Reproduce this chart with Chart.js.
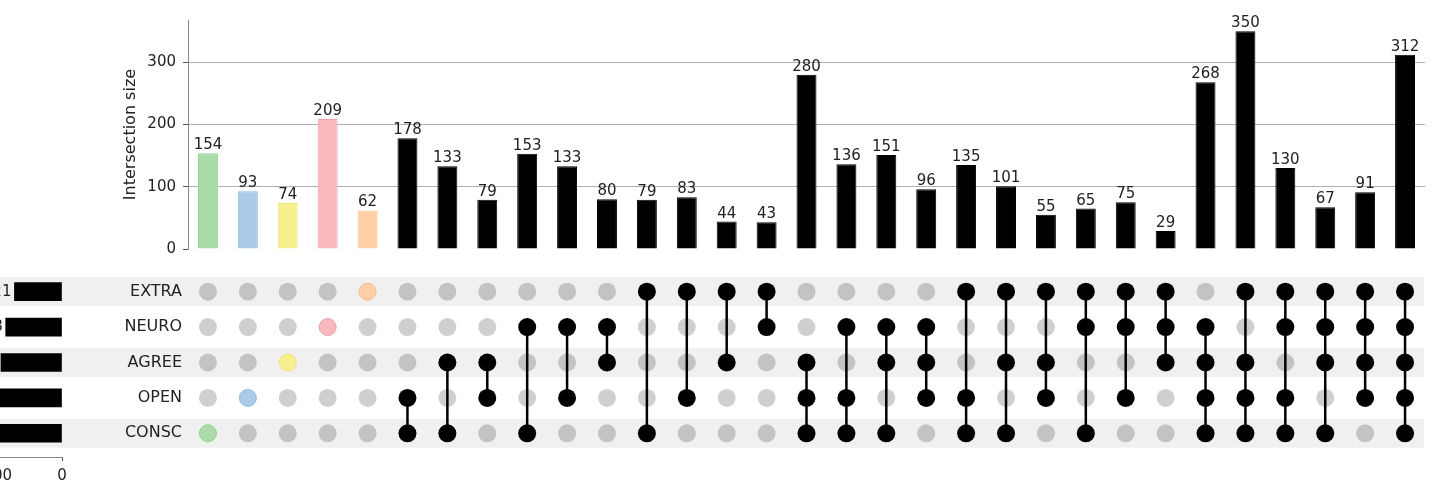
<!DOCTYPE html>
<html>
<head>
<meta charset="utf-8">
<script src="https://cdn.jsdelivr.net/npm/chart.js@4.4.1/dist/chart.umd.min.js"></script>
<style>
html, body { margin: 0; padding: 0; background: #fff; width: 1435px; height: 495px; overflow: hidden; position: relative; }
canvas { position: absolute; }
</style>
</head>
<body>
<canvas id="bars" width="1435" height="262" style="left:0;top:0"></canvas>
<canvas id="matrix" width="1435" height="233" style="left:0;top:262px"></canvas>
<canvas id="totals" width="272" height="233" style="left:-200px;top:262px"></canvas>
<script>
// sets, top to bottom in the matrix
const sets = ["EXTRA", "NEURO", "AGREE", "OPEN", "CONSC"];
const setSizes = [1721, 2038, 2210, 2494, 2692];
const setSizeTicks = [0, 2500, 5000];

const intersectionSizes = [154, 93, 74, 209, 62, 178, 133, 79, 153, 133, 80, 79, 83, 44, 43,
    280, 136, 151, 96, 135, 101, 55, 65, 75, 29, 268, 350, 130, 67, 91, 312];
const intersectionTicks = [0, 100, 200, 300];

const memberships = [
    ["CONSC"], ["OPEN"], ["AGREE"], ["NEURO"], ["EXTRA"],
    ["OPEN", "CONSC"], ["AGREE", "CONSC"], ["AGREE", "OPEN"], ["NEURO", "CONSC"],
    ["NEURO", "OPEN"], ["NEURO", "AGREE"], ["EXTRA", "CONSC"], ["EXTRA", "OPEN"],
    ["EXTRA", "AGREE"], ["EXTRA", "NEURO"],
    ["AGREE", "OPEN", "CONSC"], ["NEURO", "OPEN", "CONSC"], ["NEURO", "AGREE", "CONSC"],
    ["NEURO", "AGREE", "OPEN"], ["EXTRA", "OPEN", "CONSC"], ["EXTRA", "AGREE", "CONSC"],
    ["EXTRA", "AGREE", "OPEN"], ["EXTRA", "NEURO", "CONSC"], ["EXTRA", "NEURO", "OPEN"],
    ["EXTRA", "NEURO", "AGREE"],
    ["NEURO", "AGREE", "OPEN", "CONSC"], ["EXTRA", "AGREE", "OPEN", "CONSC"],
    ["EXTRA", "NEURO", "OPEN", "CONSC"], ["EXTRA", "NEURO", "AGREE", "CONSC"],
    ["EXTRA", "NEURO", "AGREE", "OPEN"],
    ["EXTRA", "NEURO", "AGREE", "OPEN", "CONSC"]
];

// colours for the single-set columns
const singleFill = { CONSC: "#abdbab", OPEN: "#abcbe9", AGREE: "#f7f08f", NEURO: "#f8b8bd", EXTRA: "#ffd0a6" };
const singleEdge = { CONSC: "#93d093", OPEN: "#92bbe2", AGREE: "#ede27c", NEURO: "#f0a0a6", EXTRA: "#f7bd8a" };

Chart.defaults.font.family = "'DejaVu Sans', sans-serif";
Chart.defaults.font.size = 15;
Chart.defaults.color = "#222";

// keep tick labels from pushing the plot area around
function noLabelPadding(scale) {
    scale.paddingTop = 0;
    scale.paddingBottom = 0;
}

const barFill = memberships.map(m => m.length === 1 ? singleFill[m[0]] : "#000");
const barEdge = memberships.map(m => m.length === 1 ? singleEdge[m[0]] : "#000");

const barLabels = {
    id: "barLabels",
    afterDatasetsDraw(chart) {
        const ctx = chart.ctx;
        ctx.save();
        ctx.font = "15px 'DejaVu Sans'";
        ctx.fillStyle = "#222";
        ctx.textAlign = "center";
        ctx.textBaseline = "alphabetic";
        chart.getDatasetMeta(0).data.forEach((bar, i) => {
            ctx.fillText(intersectionSizes[i], bar.x, bar.y - 4);
        });
        ctx.restore();
    }
};

new Chart(document.getElementById("bars"), {
    type: "bar",
    data: {
        labels: intersectionSizes.map((_, i) => String(i)),
        datasets: [{
            data: intersectionSizes,
            backgroundColor: barFill,
            borderColor: barEdge,
            borderWidth: 1,
            barPercentage: 0.5,
            categoryPercentage: 1
        }]
    },
    options: {
        responsive: false,
        animation: false,
        layout: { padding: { left: 117, right: 10, top: 20, bottom: 13 } },
        plugins: { legend: { display: false }, tooltip: { enabled: false } },
        scales: {
            x: { display: false, ticks: { display: false }, afterFit(scale) { scale.height = 0; } },
            y: {
                min: 0,
                max: 368,
                afterFit(scale) { scale.width = 71; noLabelPadding(scale); },
                afterBuildTicks(scale) { scale.ticks = intersectionTicks.map(v => ({ value: v })); },
                ticks: { padding: 7 },
                grid: {
                    color: c => c.tick && c.tick.value === 0 ? "rgba(0,0,0,0)" : "#b0b0b0",
                    tickLength: 5,
                    tickColor: "#555"
                },
                border: { color: "#888" },
                title: { display: true, text: "Intersection size", font: { size: 16 } }
            }
        }
    },
    plugins: [barLabels]
});

// matrix of dots
const inactiveDots = [], activeDots = [], singleDots = [], singleColors = [], singleBorders = [];
const lineSets = [];
memberships.forEach((m, c) => {
    sets.forEach((s, r) => {
        if (!m.includes(s)) inactiveDots.push({ x: c, y: r });
        else if (m.length === 1) {
            singleDots.push({ x: c, y: r });
            singleColors.push(singleFill[s]);
            singleBorders.push(singleEdge[s]);
        } else activeDots.push({ x: c, y: r });
    });
    if (m.length > 1) {
        const rows = m.map(s => sets.indexOf(s));
        lineSets.push({
            type: "line",
            data: [{ x: c, y: Math.min(...rows) }, { x: c, y: Math.max(...rows) }],
            borderColor: "#000",
            borderWidth: 2.5,
            pointRadius: 0,
            order: 1
        });
    }
});

const bands = {
    id: "bands",
    beforeDraw(chart) {
        const ctx = chart.ctx;
        const y = chart.scales.y;
        ctx.save();
        ctx.fillStyle = "#f0f0f0";
        sets.forEach((s, i) => {
            if (i % 2 === 0) {
                const py = y.getPixelForValue(i);
                ctx.fillRect(0, py - 14.5, chart.chartArea.right - 1, 29);
            }
        });
        ctx.restore();
    }
};

new Chart(document.getElementById("matrix"), {
    type: "scatter",
    data: {
        datasets: [
            { data: activeDots, backgroundColor: "#000", borderWidth: 0, pointRadius: 9, order: 0 },
            { data: singleDots, backgroundColor: singleColors, borderColor: singleBorders, borderWidth: 1, pointRadius: 8.5, order: 0 },
            ...lineSets,
            { data: inactiveDots, backgroundColor: "rgba(0,0,0,0.19)", borderWidth: 0, pointRadius: 9, order: 2 }
        ]
    },
    options: {
        responsive: false,
        animation: false,
        layout: { padding: { left: 0, right: 10, top: 12, bottom: 44 } },
        plugins: { legend: { display: false }, tooltip: { enabled: false } },
        scales: {
            x: {
                type: "linear", min: -0.5, max: 30.5, offset: false, display: false,
                ticks: { display: false }, afterFit(scale) { scale.height = 0; }
            },
            y: {
                type: "linear",
                reverse: true,
                offset: false,
                min: -0.5,
                max: 4.5,
                afterFit(scale) { scale.width = 188; noLabelPadding(scale); },
                afterBuildTicks(scale) { scale.ticks = sets.map((_, i) => ({ value: i })); },
                grid: { display: false, drawTicks: false },
                border: { display: false },
                ticks: { padding: 6, font: { size: 16 }, callback: v => sets[v] }
            }
        }
    },
    plugins: [bands]
});

// set sizes, cut off at the left edge
const totalLabels = {
    id: "totalLabels",
    afterDatasetsDraw(chart) {
        const ctx = chart.ctx;
        ctx.save();
        ctx.font = "15px 'DejaVu Sans'";
        ctx.fillStyle = "#222";
        ctx.textAlign = "right";
        ctx.textBaseline = "middle";
        chart.getDatasetMeta(0).data.forEach((bar, i) => {
            ctx.fillText(setSizes[i], bar.x - 3, bar.y);
        });
        ctx.restore();
    }
};

new Chart(document.getElementById("totals"), {
    type: "bar",
    data: {
        datasets: [{
            data: setSizes.map((v, i) => ({ x: v, y: i })),
            backgroundColor: "#000",
            barThickness: 18
        }]
    },
    options: {
        indexAxis: "y",
        responsive: false,
        animation: false,
        layout: { padding: { left: 62, right: 10, top: 12, bottom: 0 } },
        plugins: { legend: { display: false }, tooltip: { enabled: false } },
        scales: {
            y: { type: "linear", reverse: true, offset: false, min: -0.5, max: 4.67, display: false },
            x: {
                type: "linear",
                reverse: true,
                min: 0,
                max: 7240,
                afterFit(scale) { scale.height = 38; },
                afterBuildTicks(scale) { scale.ticks = setSizeTicks.map(v => ({ value: v })); },
                grid: { drawOnChartArea: false, tickLength: 4, tickColor: "#555" },
                border: { color: "#888" },
                ticks: { padding: 6, maxRotation: 0, callback: v => String(v) }
            }
        }
    },
    plugins: [totalLabels]
});
</script>
</body>
</html>
